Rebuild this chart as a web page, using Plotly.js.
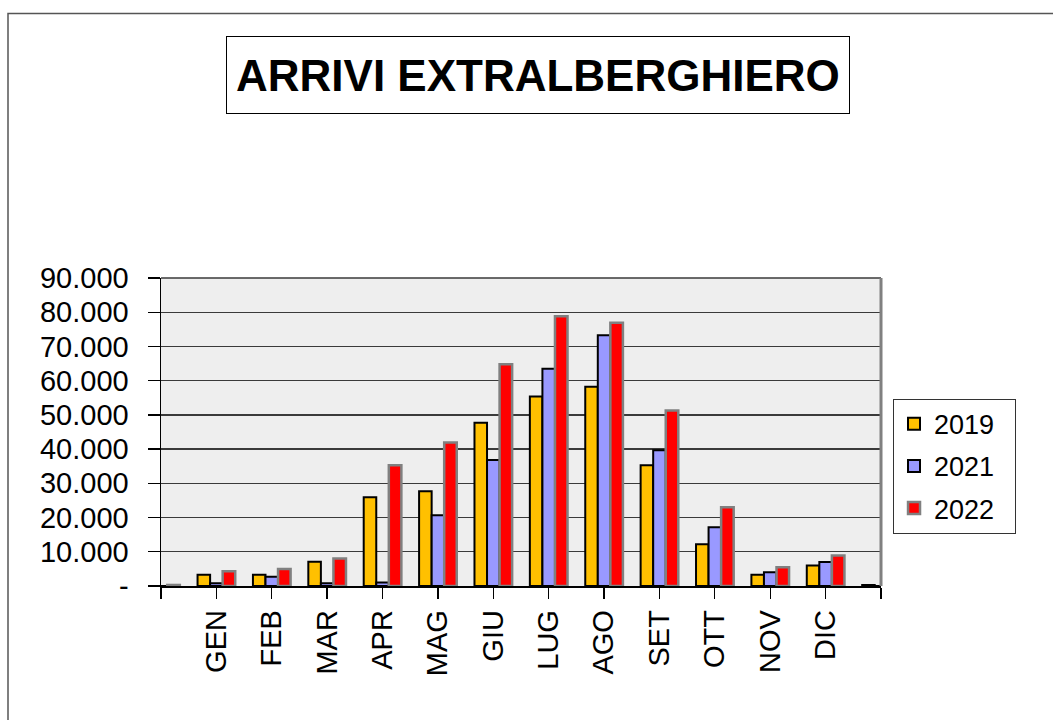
<!DOCTYPE html>
<html>
<head>
<meta charset="utf-8">
<script src="https://cdn.plot.ly/plotly-3.0.1.min.js"></script>
<style>
  body { margin: 0; background: #fff; }
  #grafico { width: 1053px; height: 720px; }
</style>
</head>
<body>
<div id="grafico"></div>
<script>
// mesi (le due colonne vuote ai bordi sono nel foglio originale)
var mesi = ['', 'GEN', 'FEB', 'MAR', 'APR', 'MAG', 'GIU', 'LUG', 'AGO', 'SET', 'OTT', 'NOV', 'DIC', ''];
var arrivi2019 = [0, 3300, 3300, 7100, 25900, 27700, 47700, 55400, 58200, 35300, 12200, 3300, 6000, 300];
var arrivi2021 = [0, 800, 2700, 800, 1000, 20700, 36800, 63500, 73300, 39700, 17200, 4000, 7000, 0];
var arrivi2022 = [300, 4300, 5000, 8000, 35300, 41900, 64800, 78800, 76900, 51300, 23000, 5500, 8900, 0];
var anni = ['2019', '2021', '2022'];
var valoriY = [0, 10000, 20000, 30000, 40000, 50000, 60000, 70000, 80000, 90000];
var etichetteY = ['-', '10.000', '20.000', '30.000', '40.000', '50.000', '60.000', '70.000', '80.000', '90.000'];

var font = 'Liberation Sans, Arial, sans-serif';
var posizioni = mesi.map(function (m, i) { return i; });

function serie(nome, valori, colore, bordo, spessore) {
    return {
        type: 'bar',
        name: nome + '\u00a0\u00a0',
        legendgroup: nome,
        x: posizioni,
        y: valori,
        marker: { color: colore, line: { color: bordo, width: spessore } },
        hoverinfo: 'y'
    };
}

var data = [
    serie(anni[0], arrivi2019, '#FFC000', '#000000', 2),
    serie(anni[1], arrivi2021, '#9999FF', '#000000', 2),
    serie(anni[2], arrivi2022, '#FF0000', '#808080', 2.5)
];

var layout = {
    width: 1053,
    height: 720,
    margin: { l: 161, r: 172, t: 278, b: 134 },
    paper_bgcolor: '#ffffff',
    plot_bgcolor: '#EEEEEE',
    font: { family: font, color: '#000' },
    barmode: 'group',
    bargap: 0.32,
    bargroupgap: 0,
    showlegend: true,
    legend: {
        x: 1.0167, xanchor: 'left',
        y: 0.608, yanchor: 'top',
        bordercolor: '#333', borderwidth: 1,
        bgcolor: '#fff',
        font: { family: font, size: 27, color: '#000' },
        traceorder: 'grouped',
        tracegroupgap: 4
    },
    xaxis: {
        range: [0, 13],
        tickvals: posizioni,
        ticktext: mesi,
        tickangle: -90,
        ticks: 'outside', ticklen: 11, tickcolor: '#000', tickwidth: 1.3,
        tickfont: { family: font, size: 29, color: '#000' },
        showgrid: false, zeroline: false,
        showline: true, linecolor: '#000', linewidth: 1.5,
        fixedrange: true
    },
    yaxis: {
        range: [0, 90000],
        tickvals: valoriY,
        ticktext: etichetteY,
        ticks: 'outside', ticklen: 12, tickcolor: '#000', tickwidth: 1.3,
        ticklabelstandoff: 13,
        tickfont: { family: font, size: 29, color: '#000' },
        showgrid: true, gridcolor: '#3a3a3a', gridwidth: 1.3,
        zeroline: false,
        showline: true, linecolor: '#000', linewidth: 1.5,
        fixedrange: true
    },
    annotations: [{
        text: '<b>ARRIVI EXTRALBERGHIERO</b>',
        xref: 'paper', yref: 'paper',
        x: 0.5236, y: 1.658,
        xanchor: 'center', yanchor: 'middle',
        showarrow: false,
        height: 58,
        font: { family: font, size: 44, color: '#000' },
        bgcolor: '#fff',
        bordercolor: '#000', borderwidth: 1, borderpad: 9
    }],
    shapes: [
        // linea superiore (90.000) e bordo grigio a destra
        { type: 'line', xref: 'paper', yref: 'paper', x0: 0, x1: 1, y0: 1, y1: 1,
          line: { color: '#3a3a3a', width: 1.5 } },
        { type: 'line', xref: 'paper', yref: 'paper', x0: 1, x1: 1, y0: 0, y1: 1,
          line: { color: '#808080', width: 3 } },
        // cornice esterna
        { type: 'rect', xref: 'paper', yref: 'paper',
          x0: -0.2125, x1: 1.26, y0: -0.5, y1: 1.859,
          line: { color: '#555', width: 1.5 } }
    ]
};

Plotly.newPlot('grafico', data, layout, { displayModeBar: false, staticPlot: true });
</script>
</body>
</html>
